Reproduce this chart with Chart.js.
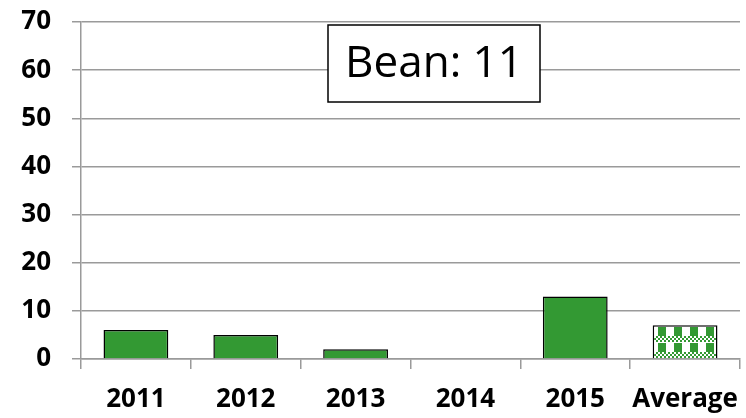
<!DOCTYPE html>
<html>
<head>
<meta charset="utf-8">
<script src="https://cdn.jsdelivr.net/npm/chart.js@4"></script>
<style>
  body { margin: 0; background: #fff; }
  #chart { display: block; }
</style>
</head>
<body>
<canvas id="chart" width="746" height="418"></canvas>
<script>
const categories = ["2011", "2012", "2013", "2014", "2015", "Average"];
const values = [6, 5, 2, 0, 13, 7];
const yMin = 0;
const yMax = 70;
const yStep = 10;
const boxLabel = "Bean: 11";

const green = "#339933";
const gridGray = "#9a9a9a";

// checkered fill for the Average bar
function makePattern() {
	const c = document.createElement("canvas");
	c.width = 16;
	c.height = 16;
	const g = c.getContext("2d");
	g.fillStyle = "#fff";
	g.fillRect(0, 0, 16, 16);
	g.fillStyle = green;
	// small checker band
	for (let y = 0; y < 6; y += 2) {
		for (let x = 0; x < 16; x += 2) {
			if (((x + y) / 2) % 2 === 0) g.fillRect(x, y, 2, 2);
		}
	}
	// block band
	g.fillRect(2, 7, 8, 9);
	return g.createPattern(c, "repeat");
}
const pattern = makePattern();

const fills = categories.map((c) => (c === "Average" ? pattern : green));

// text box in upper part of plot
const labelBox = {
	id: "labelBox",
	afterDraw(chart) {
		const { ctx } = chart;
		const x = 328, y = 25, w = 212, h = 77;
		ctx.save();
		ctx.fillStyle = "#fff";
		ctx.fillRect(x, y, w, h);
		ctx.strokeStyle = "#000";
		ctx.lineWidth = 1.5;
		ctx.strokeRect(x, y, w, h);
		ctx.fillStyle = "#000";
		ctx.font = "44px 'Open Sans'";
		ctx.textAlign = "center";
		ctx.textBaseline = "middle";
		ctx.fillText(boxLabel, x + w / 2, y + h / 2 + 1);
		ctx.restore();
	},
};

const ctx = document.getElementById("chart");
new Chart(ctx, {
	type: "bar",
	data: {
		labels: categories,
		datasets: [
			{
				data: values,
				backgroundColor: fills,
				borderColor: "#000",
				borderWidth: 1.5,
				barPercentage: 0.59,
				categoryPercentage: 1,
			},
		],
	},
	options: {
		responsive: false,
		animation: false,
		layout: {
			padding: { top: 22, right: 6, left: 0, bottom: 0 },
		},
		scales: {
			x: {
				grid: {
					drawOnChartArea: false,
					drawTicks: true,
					tickLength: 10,
					color: gridGray,
					lineWidth: 1.5,
				},
				border: { color: gridGray, width: 1.5 },
				ticks: {
					color: "#000",
					padding: 15,
					maxRotation: 0,
					minRotation: 0,
					autoSkip: false,
					font: { family: "'Open Sans'", size: 26, weight: "bold" },
				},
				afterFit(scale) {
					scale.height = 59;
					scale.paddingLeft = 0;
					scale.paddingRight = 0;
				},
			},
			y: {
				min: yMin,
				max: yMax,
				ticks: {
					stepSize: yStep,
					color: "#000",
					padding: 21,
					font: { family: "'Open Sans'", size: 26, weight: "bold" },
				},
				grid: {
					color: gridGray,
					lineWidth: 1.5,
					tickLength: 9,
				},
				border: { color: gridGray, width: 1.5 },
				afterFit(scale) {
					scale.width = 81;
					scale.paddingTop = 0;
					scale.paddingBottom = 0;
				},
			},
		},
		plugins: {
			legend: { display: false },
			tooltip: { enabled: false },
		},
	},
	plugins: [labelBox],
});
</script>
</body>
</html>
